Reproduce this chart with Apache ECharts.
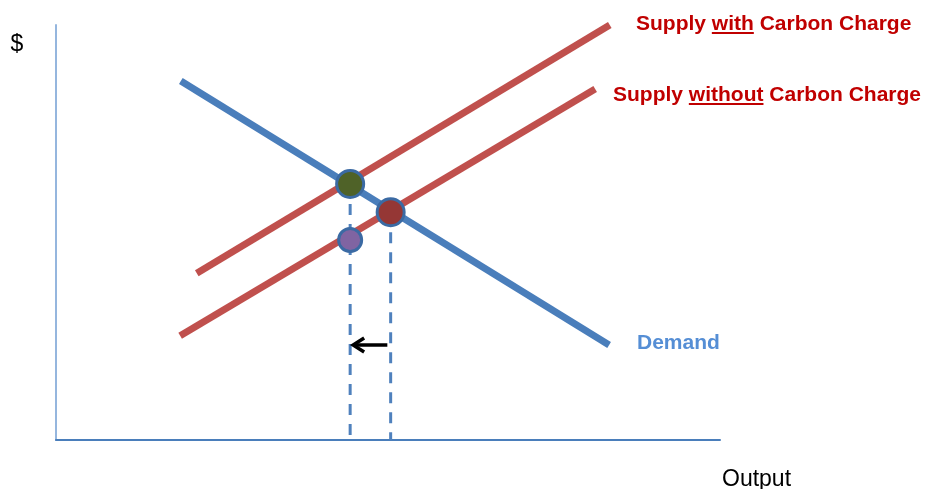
<!DOCTYPE html>
<html>
<head>
<meta charset="utf-8">
<title>Carbon Charge: Supply and Demand</title>
<script src="https://cdn.jsdelivr.net/npm/echarts@6/dist/echarts.min.js"></script>
<style>
  html, body { margin: 0; padding: 0; background: #ffffff; }
  #chart { width: 928px; height: 489px; }
</style>
</head>
<body>
<div id="chart"></div>
<script>
// Curves in (output, price) units on 0–100 scales
const demandLine = [[18.8, 86.5], [83.3, 22.9]];
const supplyWithLine = [[21.2, 40.2], [83.4, 100]];
const supplyWithoutLine = [[18.7, 25.1], [81.2, 84.6]];

// Equilibrium markers
const eqWithCharge = [44.3, 61.7];      // demand meets supply with charge
const eqWithoutCharge = [50.4, 54.9];   // demand meets supply without charge
const supplyCostAtNewQ = [44.3, 48.2];  // supply-without price at reduced output

// Drop lines from each equilibrium to the output axis
const dropWith = [[44.3, 61.7], [44.3, 0]];
const dropWithout = [[50.4, 54.9], [50.4, 0]];

// Shift arrow: [fromX, fromY, toX, toY]
const shiftArrow = [[49.9, 22.9, 44.6, 22.9]];

// Text labels
const labelSupplyWith = ['Supply ', 'with', ' Carbon Charge'];
const labelSupplyWithout = ['Supply ', 'without', ' Carbon Charge'];
const labelDemand = 'Demand';
const labelPrice = '$';
const labelOutput = 'Output';

const RED = '#c0504d';
const BLUE = '#4a7ebb';
const LABEL_RED = '#c00000';
const boldFont = 'bold 21px "Liberation Sans", Arial, sans-serif';
const plainFont = '23px "Liberation Sans", Arial, sans-serif';

const measureCtx = document.createElement('canvas').getContext('2d');
function textWidth(s, font) {
  measureCtx.font = font;
  return measureCtx.measureText(s).width;
}

// Label text with an underlined middle word
function underlinedLabel(parts, x, y, underlineY) {
  const full = parts.join('');
  const ux1 = x + textWidth(parts[0], boldFont);
  const ux2 = ux1 + textWidth(parts[1], boldFont);
  return [
    {
      type: 'text', x: x, y: y, silent: true,
      style: { text: full, font: boldFont, fill: LABEL_RED, align: 'left', verticalAlign: 'middle' }
    },
    {
      type: 'line', silent: true,
      shape: { x1: ux1, y1: underlineY, x2: ux2, y2: underlineY },
      style: { stroke: LABEL_RED, lineWidth: 2 }
    }
  ];
}

const chart = echarts.init(document.getElementById('chart'), null, { renderer: 'canvas' });

const lineSeries = (name, data, color, width, z) => ({
  name: name,
  type: 'line',
  data: data,
  symbol: 'none',
  clip: false,
  silent: true,
  z: z,
  lineStyle: { color: color, width: width, cap: 'butt' }
});

const dropSeries = (data) => ({
  type: 'line',
  data: data,
  symbol: 'none',
  clip: false,
  silent: true,
  z: 1,
  lineStyle: { color: '#4f81bd', width: 3, type: [11, 9] }
});

const option = {
  animation: false,
  backgroundColor: '#ffffff',
  grid: { left: 56, right: 208, top: 25, bottom: 49, containLabel: false },
  xAxis: {
    type: 'value', min: 0, max: 100,
    axisLine: { show: true, lineStyle: { color: BLUE, width: 2 } },
    axisTick: { show: false }, axisLabel: { show: false }, splitLine: { show: false }
  },
  yAxis: {
    type: 'value', min: 0, max: 100,
    axisLine: { show: true, onZero: false, lineStyle: { color: '#95b6de', width: 2 } },
    axisTick: { show: false }, axisLabel: { show: false }, splitLine: { show: false }
  },
  series: [
    dropSeries(dropWith),
    dropSeries(dropWithout),
    lineSeries('Supply without Carbon Charge', supplyWithoutLine, RED, 7, 2),
    lineSeries('Supply with Carbon Charge', supplyWithLine, RED, 7, 2),
    lineSeries('Demand', demandLine, BLUE, 7, 3),
    {
      type: 'custom',
      silent: true,
      z: 4,
      data: shiftArrow,
      encode: { x: [0, 2], y: [1, 3] },
      renderItem: function (params, api) {
        const a = api.coord([api.value(0), api.value(1)]);
        const b = api.coord([api.value(2), api.value(3)]);
        return {
          type: 'group',
          children: [
            { type: 'line', shape: { x1: a[0], y1: a[1], x2: b[0] + 1, y2: b[1] },
              style: { stroke: '#000000', lineWidth: 3.5 } },
            { type: 'polyline',
              shape: { points: [[b[0] + 12, b[1] - 7], [b[0] + 1, b[1]], [b[0] + 12, b[1] + 7]] },
              style: { stroke: '#000000', lineWidth: 3.5, fill: null, lineJoin: 'miter' } }
          ]
        };
      }
    },
    {
      type: 'scatter',
      silent: true,
      z: 5,
      data: [
        { value: eqWithCharge, symbolSize: 27, itemStyle: { color: '#4f6228' } },
        { value: eqWithoutCharge, symbolSize: 27, itemStyle: { color: '#953735' } },
        { value: supplyCostAtNewQ, symbolSize: 23, itemStyle: { color: '#8064a2' } }
      ],
      itemStyle: { borderColor: '#3b6aa3', borderWidth: 3, opacity: 1 }
    }
  ],
  graphic: [].concat(
    underlinedLabel(labelSupplyWith, 636, 24, 33),
    underlinedLabel(labelSupplyWithout, 613, 95, 104),
    [
      { type: 'text', x: 637, y: 343, silent: true,
        style: { text: labelDemand, font: boldFont, fill: '#558ed5', align: 'left', verticalAlign: 'middle' } },
      { type: 'text', x: 17, y: 45, silent: true,
        style: { text: labelPrice, font: plainFont, fill: '#000000', align: 'center', verticalAlign: 'middle' } },
      { type: 'text', x: 722, y: 480, silent: true,
        style: { text: labelOutput, font: plainFont, fill: '#000000', align: 'left', verticalAlign: 'middle' } }
    ]
  )
};

chart.setOption(option);
</script>
</body>
</html>
